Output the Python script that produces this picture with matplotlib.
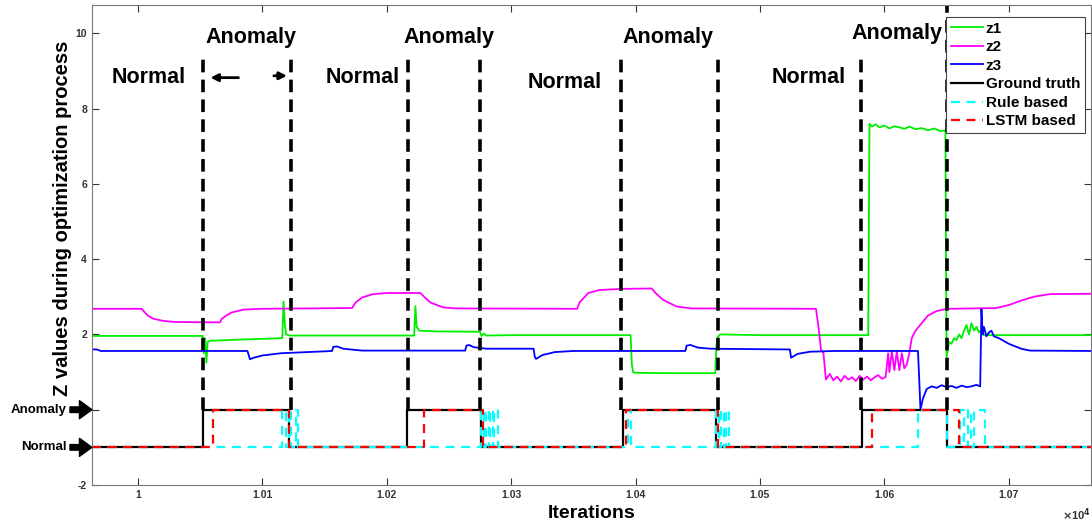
import numpy as np
import matplotlib
matplotlib.use("Agg")
import matplotlib.pyplot as plt

plt.rcParams['font.family'] = ['Liberation Sans', 'DejaVu Sans']
plt.rcParams['font.weight'] = 'bold'
plt.rcParams['axes.unicode_minus'] = False

# ---- data ----
z1_x = [9963, 10052, 10053, 10054, 10055, 10056, 10058, 10080, 10116, 10117, 10118, 10119, 10122,
        10222, 10223, 10224, 10226, 10240, 10275, 10276, 10278, 10280, 10300, 10396, 10397, 10398,
        10400, 10430, 10464, 10465, 10466, 10468, 10500, 10587,
        10588, 10590, 10593, 10596, 10600, 10604, 10608, 10612, 10616, 10620, 10625, 10630, 10635,
        10640, 10645, 10649,
        10650, 10652, 10654, 10656, 10658, 10660, 10662, 10664, 10666, 10668, 10670, 10672, 10674,
        10676, 10678, 10680, 10766]
z1_y = [1.96, 1.96, 1.5, 1.9, 1.25, 1.8, 1.83, 1.86, 1.9, 2.87, 2.3, 2.0, 1.97,
        1.97, 2.75, 2.2, 2.1, 2.08, 2.07, 1.96, 2.02, 1.97, 1.98, 1.98, 1.2, 1.0,
        0.98, 0.97, 0.97, 1.7, 1.93, 2.0, 1.98, 1.98,
        7.6, 7.52, 7.58, 7.5, 7.55, 7.47, 7.53, 7.5, 7.46, 7.52, 7.45, 7.48, 7.42,
        7.47, 7.4, 7.42,
        1.4, 1.8, 1.75, 1.9, 1.85, 2.0, 1.9, 2.1, 2.25, 2.0, 2.3, 2.1, 2.2,
        2.05, 2.12, 1.98, 1.98]

z2_x = [9963, 10003, 10005, 10008, 10012, 10020, 10030, 10066, 10067, 10070, 10075, 10085, 10100,
        10172, 10175, 10180, 10189, 10200, 10227, 10230, 10235, 10245, 10255, 10353, 10355, 10362,
        10371, 10390, 10413, 10416, 10422, 10433, 10445, 10545, 10547, 10549, 10551, 10553,
        10556, 10559, 10562, 10565, 10568, 10571, 10574, 10577, 10580, 10583, 10586, 10589, 10592,
        10595, 10598, 10601,
        10603, 10604, 10606, 10608, 10610, 10612, 10614, 10616, 10618, 10620, 10622, 10625, 10630,
        10635, 10642, 10650, 10690, 10700, 10710, 10720, 10733, 10766]
z2_y = [2.68, 2.68, 2.6, 2.5, 2.42, 2.36, 2.33, 2.32, 2.4, 2.48, 2.58, 2.66, 2.68,
        2.7, 2.85, 2.98, 3.07, 3.1, 3.1, 3.0, 2.85, 2.72, 2.69, 2.68, 2.85, 3.1,
        3.18, 3.21, 3.22, 3.1, 2.92, 2.74, 2.69, 2.68, 2.2, 1.6, 1.5, 0.8,
        0.95, 0.78, 0.88, 0.75, 0.9, 0.8, 0.86, 0.76, 0.9, 0.8, 0.88, 0.78, 0.86,
        0.92, 0.82, 0.87,
        1.5, 1.0, 1.55, 1.05, 1.55, 1.05, 1.5, 1.1, 1.2, 1.5, 1.9, 2.1, 2.3,
        2.5, 2.62, 2.68, 2.7, 2.78, 2.9, 3.0, 3.07, 3.08]

z3_x = [9963, 9967, 9970, 10088, 10089, 10090, 10093, 10100, 10115, 10150, 10156, 10157, 10160,
        10165, 10180, 10263, 10264, 10266, 10270, 10280, 10318, 10319, 10320, 10325, 10335, 10350,
        10440, 10441, 10444, 10450, 10460, 10524, 10525, 10530, 10540, 10560, 10627, 10628, 10629,
        10631, 10634, 10638, 10642, 10646, 10650, 10654, 10658, 10662, 10666, 10670, 10674, 10677,
        10678, 10679, 10680, 10682, 10684, 10686, 10688, 10692, 10700, 10710, 10717, 10766]
z3_y = [1.6, 1.6, 1.56, 1.56, 1.45, 1.34, 1.38, 1.44, 1.5, 1.55, 1.56, 1.67, 1.68,
        1.62, 1.57, 1.57, 1.7, 1.72, 1.66, 1.62, 1.62, 1.4, 1.35, 1.45, 1.53, 1.56,
        1.56, 1.7, 1.72, 1.65, 1.62, 1.6, 1.38, 1.48, 1.54, 1.56, 1.56, 0.8, 0.0,
        0.3, 0.55, 0.62, 0.58, 0.65, 0.6, 0.63, 0.58, 0.64, 0.6, 0.62, 0.66, 0.62,
        2.67, 2.0, 2.2, 1.95, 2.05, 2.1, 1.95, 1.9, 1.75, 1.62, 1.57, 1.56]

# step signals: times where state flips (start at normal = -1)
gt_flips = [10052, 10121, 10216, 10276, 10390, 10465, 10582, 10650]
rule_flips = [10116, 10119, 10121, 10123, 10127, 10129,
              10276, 10278, 10280, 10282, 10283, 10285, 10286, 10289,
              10394, 10396, 10465, 10467, 10469, 10471, 10473, 10475,
              10627, 10650, 10661, 10664, 10667, 10670, 10672, 10681]
lstm_flips = [10060, 10121, 10230, 10277, 10392, 10466, 10590, 10660]

boundaries = [10052, 10123, 10217, 10275, 10388, 10466, 10581, 10650]
boundary_top = [9.45, 9.45, 9.45, 9.45, 9.45, 9.45, 9.45, 10.75]

normal_text_x = [10009, 10181, 10343, 10539]
normal_text_y = [8.82, 8.82, 8.69, 8.82]
anomaly_text_x = [10091, 10250, 10426, 10610]
anomaly_text_y = [9.88, 9.88, 9.88, 9.99]

xticks = [10000, 10100, 10200, 10300, 10400, 10500, 10600, 10700]
xticklabels = ['1', '1.01', '1.02', '1.03', '1.04', '1.05', '1.06', '1.07']
yticks = [-2, 0, 2, 4, 6, 8, 10]


def step_xy(flips, x0=9963, x1=10766):
    xs, ys = [x0], [-1]
    state = -1
    for f in flips:
        xs.append(f)
        ys.append(state)
        state = 0 if state == -1 else -1
        xs.append(f)
        ys.append(state)
    xs.append(x1)
    ys.append(state)
    return xs, ys


fig = plt.figure(figsize=(10.92, 5.25), dpi=100)
ax = fig.add_axes([0.0842, 0.0762, 0.9148, 0.9143])

ax.plot(z1_x, z1_y, color='#00ee00', lw=1.3, label='z1')
ax.plot(z2_x, z2_y, color='#ff00ff', lw=1.3, label='z2')
ax.plot(z3_x, z3_y, color='#0000ff', lw=1.3, label='z3')
gx, gy = step_xy(gt_flips)
ax.plot(gx, gy, color='black', lw=1.6, label='Ground truth')
rx, ry = step_xy(rule_flips)
ax.plot(rx, ry, color='#00ffff', lw=1.6, ls=(0, (4, 3)), label='Rule based')
lx, ly = step_xy(lstm_flips)
ax.plot(lx, ly, color='#ff0000', lw=1.6, ls=(0, (4, 3)), label='LSTM based')

for bx, bt in zip(boundaries, boundary_top):
    ax.plot([bx, bx], [0, bt], color='black', lw=2.6, ls=(0, (3.5, 2)))

for tx, ty in zip(normal_text_x, normal_text_y):
    ax.text(tx, ty, 'Normal', fontsize=15.5, fontweight='bold', ha='center', va='center')
for tx, ty in zip(anomaly_text_x, anomaly_text_y):
    ax.text(tx, ty, 'Anomaly', fontsize=15.5, fontweight='bold', ha='center', va='center')

ax.annotate('', xy=(10056, 8.82), xytext=(10083, 8.82),
            arrowprops=dict(arrowstyle='-|>', color='black', lw=2, mutation_scale=11))
ax.annotate('', xy=(10122, 8.87), xytext=(10107, 8.87),
            arrowprops=dict(arrowstyle='-|>', color='black', lw=2, mutation_scale=11))

# side labels with big arrows
for lbl, yv in [('Anomaly', 0), ('Normal', -1)]:
    ax.annotate('', xy=(0, yv), xytext=(-0.022, yv), xycoords=('axes fraction', 'data'),
                textcoords=('axes fraction', 'data'), annotation_clip=False,
                arrowprops=dict(facecolor='black', edgecolor='black', width=4,
                                headwidth=13, headlength=9))
    ax.text(-0.025, yv, lbl, transform=ax.get_yaxis_transform(), ha='right', va='center',
            fontsize=9.5, fontweight='bold')

ax.set_xlim(9963, 10766)
ax.set_ylim(-2, 10.75)
ax.set_xticks(xticks)
ax.set_xticklabels(xticklabels)
ax.set_yticks(yticks)
ax.tick_params(direction='in', top=True, right=True, labelsize=7.5, colors='#333333',
               length=5, width=0.8)
for lab in ax.get_xticklabels() + ax.get_yticklabels():
    lab.set_fontweight('bold')
for sp in ax.spines.values():
    sp.set_color('#777777')
    sp.set_linewidth(0.8)

ax.set_xlabel('Iterations', fontsize=14, fontweight='bold', labelpad=4)
ax.set_ylabel('Z values during optimization process', fontsize=14.5, fontweight='bold')
ax.yaxis.set_label_coords(-0.02, 0.556)
ax.text(1.0, -0.045, r'$\times$10$^{4}$', transform=ax.transAxes, ha='right', va='top',
        fontsize=8, fontweight='bold', color='#333333')

leg = ax.legend(loc='upper right', bbox_to_anchor=(0.994, 0.975), fontsize=11,
                handlelength=2.1, handletextpad=0.2, labelspacing=0.3, borderpad=0.3,
                borderaxespad=0.0, fancybox=False, framealpha=1, edgecolor='#444444')
for t in leg.get_texts():
    t.set_fontweight('bold')
leg.get_frame().set_linewidth(0.8)

fig.savefig('out.png', dpi=100)
